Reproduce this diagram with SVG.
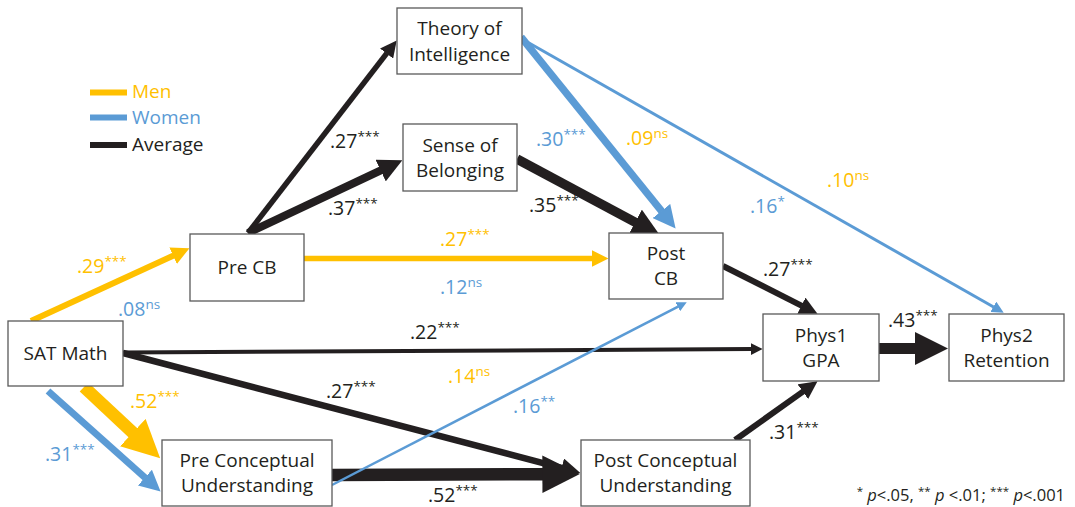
<svg xmlns="http://www.w3.org/2000/svg" width="1075" height="507" viewBox="0 0 1075 507">
<style>
  text { font-family: "Open Sans", "Liberation Sans", sans-serif; fill: #231F20; }
  .node rect { fill: #FFFFFF; stroke: #595959; stroke-width: 1.3; }
  .node text { font-size: 19px; text-anchor: middle; }
  .lbl { font-size: 19.5px; }
  .sup { font-size: 13.5px; }
  .k { stroke: #231F20; fill: none; }
  .y { stroke: #FFC000; fill: none; }
  .b { stroke: #5B9BD5; fill: none; }
  .tk { fill: #231F20; }
  .ty { fill: #FFC000; }
  .tb { fill: #5B9BD5; }
  .leg { font-size: 19px; }
  .note { font-size: 16.5px; }
</style>
<defs>
  <marker id="hK" viewBox="0 0 10 10" refX="0.3" refY="5" markerWidth="3" markerHeight="3" orient="auto" markerUnits="strokeWidth"><path d="M0,0 L10,5 L0,10 z" fill="#231F20"/></marker>
  <marker id="hY" viewBox="0 0 10 10" refX="0.3" refY="5" markerWidth="3" markerHeight="3" orient="auto" markerUnits="strokeWidth"><path d="M0,0 L10,5 L0,10 z" fill="#FFC000"/></marker>
  <marker id="hB" viewBox="0 0 10 10" refX="0.3" refY="5" markerWidth="3" markerHeight="3" orient="auto" markerUnits="strokeWidth"><path d="M0,0 L10,5 L0,10 z" fill="#5B9BD5"/></marker>
  <marker id="hBs" viewBox="0 0 10 10" refX="0.3" refY="5" markerWidth="4" markerHeight="4" orient="auto" markerUnits="strokeWidth"><path d="M0,0 L10,5 L0,10 z" fill="#5B9BD5"/></marker>
</defs>
<rect width="1075" height="507" fill="#FFFFFF"/>

<g id="legend">
  <line x1="90" y1="92.5" x2="127" y2="92.5" stroke="#FFC000" stroke-width="6"/>
  <line x1="90" y1="117.5" x2="127" y2="117.5" stroke="#5B9BD5" stroke-width="6"/>
  <line x1="90" y1="145" x2="127" y2="145" stroke="#231F20" stroke-width="6"/>
  <text class="leg ty" x="132" y="98">Men</text>
  <text class="leg tb" x="132" y="124">Women</text>
  <text class="leg" x="132" y="151">Average</text>
</g>

<g id="connectors">
  <!-- black -->
  <line class="k" x1="248" y1="233" x2="386.9" y2="53.1" stroke-width="5.5" marker-end="url(#hK)"/>
  <line class="k" x1="248" y1="233" x2="381.3" y2="170.2" stroke-width="8" marker-end="url(#hK)"/>
  <line class="k" x1="517" y1="159" x2="635.9" y2="222.6" stroke-width="9.5" marker-end="url(#hK)"/>
  <line class="k" x1="723" y1="266" x2="801.9" y2="305.9" stroke-width="6" marker-end="url(#hK)"/>
  <line class="k" x1="123" y1="352.5" x2="751" y2="349.1" stroke-width="4" marker-end="url(#hK)"/>
  <line class="k" x1="123" y1="353" x2="562.1" y2="468.1" stroke-width="6.5" marker-end="url(#hK)"/>
  <line class="k" x1="332" y1="475" x2="543.5" y2="474.2" stroke-width="12.5" marker-end="url(#hK)"/>
  <line class="k" x1="735" y1="440" x2="803.3" y2="391.4" stroke-width="6" marker-end="url(#hK)"/>
  <line class="k" x1="879" y1="348.5" x2="916" y2="348.5" stroke-width="11" marker-end="url(#hK)"/>
  <!-- yellow -->
  <line class="y" x1="31" y1="321" x2="173.6" y2="255.5" stroke-width="6" marker-end="url(#hY)"/>
  <line class="y" x1="304" y1="258.5" x2="592.5" y2="258.5" stroke-width="5.5" marker-end="url(#hY)"/>
  <line class="y" x1="84" y1="387" x2="133.6" y2="433.4" stroke-width="12.5" marker-end="url(#hY)"/>
  <!-- blue -->
  <line class="b" x1="48" y1="391" x2="145.4" y2="478" stroke-width="7" marker-end="url(#hB)"/>
  <line class="b" x1="521" y1="37" x2="661.9" y2="211.5" stroke-width="7.5" marker-end="url(#hB)"/>
  <line class="b" x1="522" y1="39" x2="993.6" y2="307" stroke-width="3" marker-end="url(#hBs)"/>
  <line class="b" x1="332" y1="485" x2="678.1" y2="306.6" stroke-width="2.5" marker-end="url(#hBs)"/>
</g>

<g id="node-theory" class="node">
  <rect x="397" y="8" width="125" height="66"/>
  <text x="459.5" y="35">Theory of</text>
  <text x="459.5" y="61">Intelligence</text>
</g>
<g id="node-belonging" class="node">
  <rect x="403" y="124" width="114" height="67"/>
  <text x="460" y="152">Sense of</text>
  <text x="460" y="177">Belonging</text>
</g>
<g id="node-precb" class="node">
  <rect x="190" y="234" width="114" height="67"/>
  <text x="247" y="274">Pre CB</text>
</g>
<g id="node-postcb" class="node">
  <rect x="609" y="233" width="114" height="66"/>
  <text x="666" y="260">Post</text>
  <text x="666" y="285">CB</text>
</g>
<g id="node-sat" class="node">
  <rect x="8" y="321" width="115" height="65"/>
  <text x="65.5" y="360">SAT Math</text>
</g>
<g id="node-preconc" class="node">
  <rect x="162" y="440" width="170" height="66"/>
  <text x="247" y="467">Pre Conceptual</text>
  <text x="247" y="492">Understanding</text>
</g>
<g id="node-postconc" class="node">
  <rect x="581" y="440" width="169" height="66"/>
  <text x="665.5" y="467">Post Conceptual</text>
  <text x="665.5" y="492">Understanding</text>
</g>
<g id="node-phys1" class="node">
  <rect x="763" y="314" width="116" height="67"/>
  <text x="821" y="342">Phys1</text>
  <text x="821" y="367">GPA</text>
</g>
<g id="node-phys2" class="node">
  <rect x="949" y="314" width="115" height="67"/>
  <text x="1006.5" y="342">Phys2</text>
  <text x="1006.5" y="367">Retention</text>
</g>

<g id="labels">
  <text class="lbl" x="330" y="148">.27<tspan class="sup" dy="-7">***</tspan></text>
  <text class="lbl" x="328" y="215">.37<tspan class="sup" dy="-7">***</tspan></text>
  <text class="lbl ty" x="77" y="273">.29<tspan class="sup" dy="-7">***</tspan></text>
  <text class="lbl tb" x="118" y="316">.08<tspan class="sup" dy="-7">ns</tspan></text>
  <text class="lbl ty" x="440" y="246">.27<tspan class="sup" dy="-7">***</tspan></text>
  <text class="lbl tb" x="440" y="294">.12<tspan class="sup" dy="-7">ns</tspan></text>
  <text class="lbl tb" x="536" y="146">.30<tspan class="sup" dy="-7">***</tspan></text>
  <text class="lbl ty" x="626" y="145">.09<tspan class="sup" dy="-7">ns</tspan></text>
  <text class="lbl" x="529" y="212">.35<tspan class="sup" dy="-7">***</tspan></text>
  <text class="lbl ty" x="827" y="187">.10<tspan class="sup" dy="-7">ns</tspan></text>
  <text class="lbl tb" x="750" y="213">.16<tspan class="sup" dy="-7">*</tspan></text>
  <text class="lbl" x="763" y="276">.27<tspan class="sup" dy="-7">***</tspan></text>
  <text class="lbl" x="888" y="327">.43<tspan class="sup" dy="-7">***</tspan></text>
  <text class="lbl" x="410" y="339">.22<tspan class="sup" dy="-7">***</tspan></text>
  <text class="lbl ty" x="448" y="383">.14<tspan class="sup" dy="-7">ns</tspan></text>
  <text class="lbl" x="326" y="398">.27<tspan class="sup" dy="-7">***</tspan></text>
  <text class="lbl tb" x="513" y="413">.16<tspan class="sup" dy="-7">**</tspan></text>
  <text class="lbl" x="428" y="502">.52<tspan class="sup" dy="-7">***</tspan></text>
  <text class="lbl ty" x="130" y="408">.52<tspan class="sup" dy="-7">***</tspan></text>
  <text class="lbl tb" x="45" y="461">.31<tspan class="sup" dy="-7">***</tspan></text>
  <text class="lbl" x="769" y="439">.31<tspan class="sup" dy="-7">***</tspan></text>
</g>

<text id="footnote" class="note" x="1065" y="501" text-anchor="end"><tspan font-size="11.5px" dy="-6">*</tspan><tspan dy="6"> </tspan><tspan font-style="italic">p</tspan>&lt;.05, <tspan font-size="11.5px" dy="-6">**</tspan><tspan dy="6"> </tspan><tspan font-style="italic">p</tspan> &lt;.01; <tspan font-size="11.5px" dy="-6">***</tspan><tspan dy="6"> </tspan><tspan font-style="italic">p</tspan>&lt;.001</text>
</svg>
